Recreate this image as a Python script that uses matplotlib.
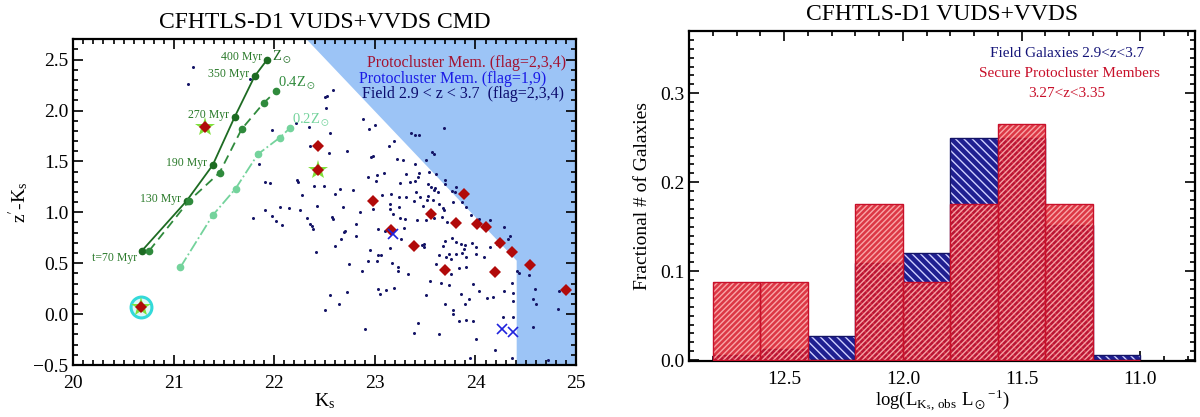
import numpy as np
import matplotlib
matplotlib.use("Agg")
import matplotlib.pyplot as plt
from matplotlib.ticker import MultipleLocator

plt.rcParams['font.family'] = ['Liberation Serif', 'DejaVu Serif']
plt.rcParams['mathtext.fontset'] = 'stix'
plt.rcParams['hatch.linewidth'] = 1.0

# ---- Left panel data (CMD) ----
# Field galaxies 2.9 < z < 3.7
field_ks = [22.51, 22.88, 23.00, 22.94, 23.69, 23.36, 23.40, 23.44, 22.55, 23.19, 23.14, 22.72, 22.54, 22.96, 22.98,
            23.57, 23.59, 23.22, 23.28, 23.51, 23.40, 23.02, 23.09, 22.93, 23.01, 23.31, 23.44, 23.43, 23.40, 23.54,
            23.61, 23.35, 23.25, 23.53, 23.56, 23.60, 23.70, 23.70, 23.77, 23.81, 23.80, 22.65, 22.78, 22.60, 23.07,
            23.16, 23.24, 23.31, 23.41, 23.45, 23.53, 23.59, 23.63, 22.27, 22.49, 23.87, 23.78, 23.68, 23.69, 23.39,
            23.48, 23.52, 23.58, 23.64, 23.96, 24.04, 24.14, 23.91, 23.15, 23.15, 23.24, 23.18, 22.98, 22.85, 22.68,
            22.57, 22.58, 22.81, 23.03, 23.10, 23.25, 23.30, 23.42, 23.51, 23.59, 23.67, 23.72, 22.32, 22.35, 22.37,
            22.38, 22.69, 22.70, 22.66, 22.81, 22.60, 22.95, 23.03, 23.06, 23.15, 23.26, 23.29, 23.47, 23.49, 23.49,
            23.70, 23.68, 23.77, 23.81, 23.86, 23.89, 23.90, 23.97, 24.01, 23.87, 23.81, 23.76, 23.71, 23.64, 23.74,
            23.91, 24.01, 24.08, 24.14, 24.21, 24.28, 24.34, 24.32, 22.74, 22.93, 23.02, 23.17, 23.23, 23.23, 22.87,
            23.33, 23.61, 23.76, 23.84, 23.91, 23.98, 24.04, 24.11, 24.17, 24.28, 24.37, 24.37, 24.41, 24.43, 24.53,
            24.57, 24.59, 24.60, 24.57, 24.82, 24.83, 23.03, 23.05, 23.11, 23.19, 22.55, 22.64, 22.72, 22.50, 23.51,
            23.55, 23.64, 23.70, 23.78, 23.78, 23.86, 23.90, 23.94, 23.98, 23.91, 23.84, 23.66, 23.74, 24.27, 24.36,
            22.90, 23.39, 23.43, 24.01, 24.19, 24.37, 22.41, 22.42,
            21.19, 21.14, 21.76, 21.98, 22.21, 22.34, 22.35, 21.85, 21.91, 21.96, 22.22, 22.23, 22.39, 21.91, 21.79,
            21.98, 22.02, 22.06, 22.15, 22.08, 22.25, 22.58, 22.50, 22.52, 23.95, 24.36, 24.72]
field_col = [2.02, 1.92, 1.86, 1.82, 1.83, 1.78, 1.76, 1.76, 1.78, 1.70, 1.65, 1.60, 1.58, 1.54, 1.55,
             1.59, 1.57, 1.52, 1.51, 1.51, 1.47, 1.37, 1.39, 1.35, 1.31, 1.38, 1.39, 1.35, 1.31, 1.40,
             1.38, 1.30, 1.29, 1.28, 1.25, 1.24, 1.32, 1.28, 1.21, 1.25, 1.20, 1.23, 1.22, 1.18, 1.17,
             1.18, 1.15, 1.15, 1.20, 1.15, 1.16, 1.22, 1.20, 1.17, 1.26, 1.10, 1.10, 1.04, 1.02, 1.11,
             1.06, 1.12, 1.12, 1.08, 0.97, 0.93, 0.92, 1.05, 1.08, 1.03, 1.05, 0.98, 1.03, 1.00, 1.05,
             0.95, 0.93, 0.89, 0.84, 0.82, 0.94, 0.93, 0.92, 0.92, 0.94, 0.95, 0.90, 0.94, 0.89, 0.87,
             0.84, 0.81, 0.82, 0.74, 0.77, 0.67, 0.63, 0.58, 0.58, 0.65, 0.74, 0.85, 0.68, 0.66, 0.69,
             0.72, 0.67, 0.75, 0.71, 0.69, 0.64, 0.68, 0.70, 0.66, 0.60, 0.59, 0.54, 0.56, 0.58, 0.59,
             0.56, 0.59, 0.56, 0.66, 0.69, 0.86, 0.77, 0.74, 0.49, 0.52, 0.52, 0.50, 0.46, 0.42, 0.42,
             0.39, 0.49, 0.39, 0.45, 0.46, 0.30, 0.23, 0.16, 0.17, 0.23, 0.13, 0.21, 0.42, 0.40, 0.38,
             0.15, 0.25, 0.10, -0.13, 0.05, 0.23, 0.25, 0.20, 0.24, 0.26, 0.19, 0.10, 0.22, 0.04, 0.19,
             0.33, -0.20, 0.10, 0.04, 0.00, 0.20, 0.10, 0.15, -0.07, -0.06, -0.07, 0.31, 0.29, -0.03, 0.31,
             -0.15, -0.19, -0.09, -0.24, -0.35, -0.03, 0.61, 1.06,
             2.43, 2.26, 2.31, 1.81, 1.88, 1.84, 1.65, 1.47, 1.30, 1.29, 1.32, 1.30, 1.26, 1.02, 0.94,
             0.96, 0.91, 1.05, 1.04, 0.88, 1.02, 2.20, 2.13, 2.14, -0.43, -0.43, -0.45]

# Protocluster members, flag = 2,3,4
pc_ks = [22.43, 22.43, 22.98, 23.155, 23.39, 23.56, 23.81, 23.89, 23.70, 24.02, 24.10, 24.24, 24.19,
         24.36, 24.54, 24.90, 21.31, 20.67]
pc_col = [1.656, 1.42, 1.115, 0.83, 0.665, 0.984, 0.896, 1.177, 0.436, 0.889, 0.859, 0.702, 0.413,
          0.61, 0.478, 0.232, 1.843, 0.07]
# members with a star behind them
star_ks = [21.31, 22.43, 20.67]
star_col = [1.843, 1.42, 0.07]
# protocluster members, flag = 1,9
pc19_ks = [23.175, 24.26, 24.375]
pc19_col = [0.787, -0.148, -0.171]
# highlighted object
ring_ks = [20.67]
ring_col = [0.07]

# model tracks: Z_sun, 0.4 Z_sun, 0.2 Z_sun
trk1_ks = [20.683, 21.127, 21.386, 21.604, 21.803, 21.925]
trk1_col = [0.623, 1.112, 1.463, 1.935, 2.336, 2.496]
trk2_ks = [20.755, 21.150, 21.455, 21.674, 21.896, 22.015]
trk2_col = [0.623, 1.112, 1.390, 1.817, 2.077, 2.188]
trk3_ks = [21.064, 21.386, 21.614, 21.836, 22.055, 22.154]
trk3_col = [0.459, 0.970, 1.233, 1.571, 1.735, 1.827]

# shaded (incomplete) region outline
shade_ks = [22.32, 24.41, 24.41, 25.0, 25.0]
shade_col = [2.7, 0.525, -0.5, -0.5, 2.7]

# ---- Right panel data (histograms) ----
bin_edges = [12.8, 12.6, 12.4, 12.2, 12.0, 11.8, 11.6, 11.4, 11.2, 11.0]
field_frac = [0.006, 0.013, 0.027, 0.109, 0.120, 0.250, 0.250, 0.152, 0.006]
pc_frac = [0.0875, 0.0875, 0.0, 0.176, 0.088, 0.176, 0.265, 0.176, 0.0]

fig = plt.figure(figsize=(12, 4.17), dpi=100)

# ================= Left panel =================
ax1 = fig.add_axes([0.0611, 0.1247, 0.4189, 0.7811])
ax1.fill(shade_ks, shade_col, color='#9cc4f6', lw=0, zorder=0)
ax1.plot(field_ks, field_col, 'o', color='#141466', ms=2.2, mew=0, zorder=2)

ax1.plot(trk1_ks, trk1_col, '-o', color='#1d6b22', ms=4.5, lw=1.3, zorder=3)
ax1.plot(trk2_ks, trk2_col, '--o', color='#2f8a3c', ms=4.5, lw=1.3, dashes=(5, 3), zorder=3)
ax1.plot(trk3_ks, trk3_col, '-.o', color='#74d39c', ms=4.5, lw=1.3, zorder=3)

tcol = '#2a7a2a'
for txt, x, y in [("400 Myr", 21.876, 2.526), ("350 Myr", 21.746, 2.362), ("270 Myr", 21.548, 1.952),
                  ("190 Myr", 21.326, 1.482), ("130 Myr", 21.068, 1.135), ("t=70 Myr", 20.63, 0.547)]:
    ax1.text(x, y, txt, color=tcol, fontsize=8.5, ha='right', va='center')
ax1.text(21.972, 2.526, r"Z$_\odot$", color='#1d6b22', fontsize=10.5, ha='left', va='center')
ax1.text(22.035, 2.264, r"0.4Z$_\odot$", color='#2f8a3c', fontsize=10.5, ha='left', va='center')
ax1.text(22.174, 1.90, r"0.2Z$_\odot$", color='#74d39c', fontsize=10.5, ha='left', va='center')

ax1.plot(ring_ks, ring_col, 'o', ms=15, mfc='#dff7f7', mec='#33dada', mew=2.2, zorder=4)
ax1.plot(star_ks, star_col, '*', color='#7fe03a', ms=15, mew=0, zorder=5)
ax1.plot(pc_ks, pc_col, 'D', color='#b10a0a', ms=6.5, mew=0, zorder=6)
ax1.plot(pc19_ks, pc19_col, 'x', color='#1f22dd', ms=7, mew=1.2, zorder=6)

ax1.text(24.9, 2.47, "Protocluster Mem. (flag=2,3,4)", color='#a31230', fontsize=11.5, ha='right', va='center')
ax1.text(24.7, 2.31, "Protocluster Mem. (flag=1,9)", color='#1a1ae6', fontsize=11.5, ha='right', va='center')
ax1.text(24.88, 2.16, "Field 2.9 < z < 3.7  (flag=2,3,4)", color='#0c0c6e', fontsize=11.5, ha='right', va='center')

ax1.set_xlim(20, 25)
ax1.set_ylim(-0.5, 2.7)
ax1.xaxis.set_major_locator(MultipleLocator(1))
ax1.xaxis.set_minor_locator(MultipleLocator(0.1))
ax1.yaxis.set_major_locator(MultipleLocator(0.5))
ax1.yaxis.set_minor_locator(MultipleLocator(0.1))
ax1.set_xlabel(r"K$_\mathregular{s}$", fontsize=14, labelpad=0)
ax1.set_ylabel(r"z$^{\prime}$-K$_\mathregular{s}$", fontsize=14, labelpad=2)
ax1.set_title("CFHTLS-D1 VUDS+VVDS CMD", fontsize=17, pad=8)

# ================= Right panel =================
ax2 = fig.add_axes([0.5742, 0.1343, 0.4217, 0.7914])
left = np.array(bin_edges[:-1])
width = np.diff(bin_edges)
ax2.bar(left, field_frac, width=width, align='edge', color='#1f1f90', lw=0, zorder=2)
ax2.bar(left, field_frac, width=width, align='edge', color='none', edgecolor='#d0d0ff',
        hatch='\\\\\\\\', lw=0, zorder=2)
ax2.bar(left, field_frac, width=width, align='edge', color='none', edgecolor='#141466', lw=1, zorder=2)
ax2.bar(left, pc_frac, width=width, align='edge', color=(0.84, 0.08, 0.14, 0.85), lw=0, zorder=3)
ax2.bar(left, pc_frac, width=width, align='edge', color='none', edgecolor=(1.0, 0.72, 0.72, 0.85),
        hatch='//////', lw=0, zorder=3)
ax2.bar(left, pc_frac, width=width, align='edge', color='none', edgecolor='#c8102a', lw=1, zorder=3)

ax2.set_xlim(12.9, 10.77)
ax2.set_ylim(-0.001, 0.37)
ax2.xaxis.set_major_locator(MultipleLocator(0.5))
ax2.xaxis.set_minor_locator(MultipleLocator(0.1))
ax2.yaxis.set_major_locator(MultipleLocator(0.1))
ax2.yaxis.set_minor_locator(MultipleLocator(0.01))
ax2.set_xlabel(r"log(L$_{\mathregular{K_s,\,obs}}$ L$_\odot$$^{\mathregular{-1}}$)", fontsize=13.5, labelpad=0)
ax2.set_ylabel("Fractional # of Galaxies", fontsize=14, labelpad=6)
ax2.set_title("CFHTLS-D1 VUDS+VVDS", fontsize=17, pad=8)

ax2.text(11.31, 0.345, "Field Galaxies 2.9<z<3.7", color='#141478', fontsize=11, ha='center', va='center')
ax2.text(11.30, 0.322, "Secure Protocluster Members", color='#c8102a', fontsize=11, ha='center', va='center')
ax2.text(11.31, 0.300, "3.27<z<3.35", color='#c8102a', fontsize=11, ha='center', va='center')

for ax in (ax1, ax2):
    for s in ax.spines.values():
        s.set_linewidth(1.6)
    ax.tick_params(which='both', direction='in', top=True, right=True, labelsize=14, width=1.2)
    ax.tick_params(which='major', length=7)
    ax.tick_params(which='minor', length=3.5)
    ax.tick_params(axis='x', pad=7)

fig.savefig("out.png", dpi=100)
